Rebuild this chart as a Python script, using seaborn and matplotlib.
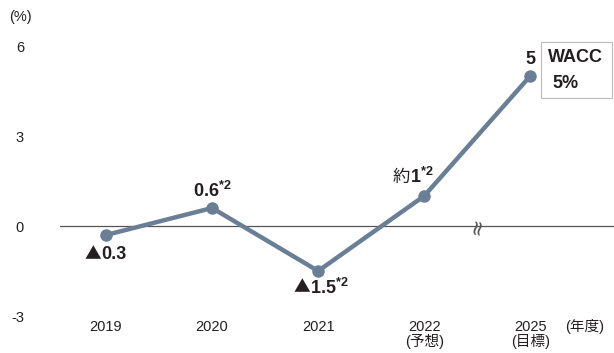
import matplotlib
matplotlib.use("Agg")
import matplotlib.pyplot as plt
import seaborn as sns
import pandas as pd
from matplotlib.patches import Rectangle

# データ
years = ["2019", "2020", "2021", "2022", "2025"]
tick_labels = ["2019", "2020", "2021", "2022\n(予想)", "2025\n(目標)"]
roic = [-0.3, 0.6, -1.5, 1.0, 5.0]
label_prefix = ["▲", "", "▲", "約", ""]
label_value = ["0.3", "0.6$^{\\mathbf{*2}}$", "1.5$^{\\mathbf{*2}}$", "1$^{\\mathbf{*2}}$", "5"]
# (分割位置x, y) オフセット [pt]
label_offsets = [(-3.6, -14), (0, 12), (-6, -12), (-10, 14), (0, 12)]
y_ticks = [-3, 0, 3, 6]

sns.set_theme(style="white")
plt.rcParams["font.family"] = ["Liberation Sans", "Noto Sans CJK JP", "DejaVu Sans"]
plt.rcParams["axes.unicode_minus"] = False
plt.rcParams["mathtext.fontset"] = "custom"
plt.rcParams["mathtext.rm"] = "Liberation Sans"
plt.rcParams["mathtext.bf"] = "Liberation Sans:bold"

line_color = "#6a7f96"
text_color = "#231f20"

fig = plt.figure(figsize=(6.14, 3.53), dpi=100)
ax = fig.add_axes([60 / 614, 37 / 353, 554 / 614, 270 / 353])

df = pd.DataFrame({"year": years, "roic": roic})
ax.axhline(0, color="#555555", lw=0.9, zorder=1)
sns.lineplot(data=df, x="year", y="roic", sort=False, color=line_color, lw=3.2,
             marker="o", markersize=9, markeredgewidth=0, ax=ax, zorder=3)

# 値ラベル
for i, (pre, val, off) in enumerate(zip(label_prefix, label_value, label_offsets)):
    if pre:
        ax.annotate(pre, (i, roic[i]), xytext=off, textcoords="offset points",
                    ha="right", va="center", fontsize=12 if pre == "▲" else 12.5,
                    family=["Noto Sans CJK JP"], color=text_color)
        ha = "left"
    else:
        ha = "center"
    ax.annotate(val, (i, roic[i]), xytext=off, textcoords="offset points",
                ha=ha, va="center", fontsize=13, fontweight="bold",
                color=text_color)

# 省略記号
ax.text(3.5, 0, "≈", rotation=80, ha="center", va="center", fontsize=15,
        color="#555555", family=["DejaVu Sans"], zorder=2)

ax.set_xlim(-0.434, 4.79)
ax.set_ylim(-3, 6)
ax.set_yticks(y_ticks)
ax.set_xticks(range(len(years)))
ax.set_xticklabels(tick_labels, fontsize=10.5, color=text_color, linespacing=0.95)
ax.tick_params(axis="y", labelsize=10.5, pad=26, colors=text_color, length=0)
ax.tick_params(axis="x", pad=3, length=0)
ax.set_xlabel("")
ax.set_ylabel("")
sns.despine(ax=ax, left=True, bottom=True)

fig.text(20 / 614, 1 - 17 / 353, "(%)", ha="center", va="center", fontsize=10.5,
         color=text_color)
fig.text(585 / 614, 1 - 326 / 353, "(年度)", ha="center", va="center",
         fontsize=10.5, color=text_color)

# WACC ボックス
fig.add_artist(Rectangle((541 / 614, 1 - 98 / 353), 71 / 614, 56 / 353,
                         transform=fig.transFigure, fill=False,
                         ec="#bbbbbb", lw=0.8))
fig.text(548 / 614, 1 - 58 / 353, "WACC", ha="left", va="center", fontsize=13,
         fontweight="bold", color=text_color)
fig.text(552 / 614, 1 - 83 / 353, "5%", ha="left", va="center", fontsize=13,
         fontweight="bold", color=text_color)

fig.savefig("out.png", dpi=100)
